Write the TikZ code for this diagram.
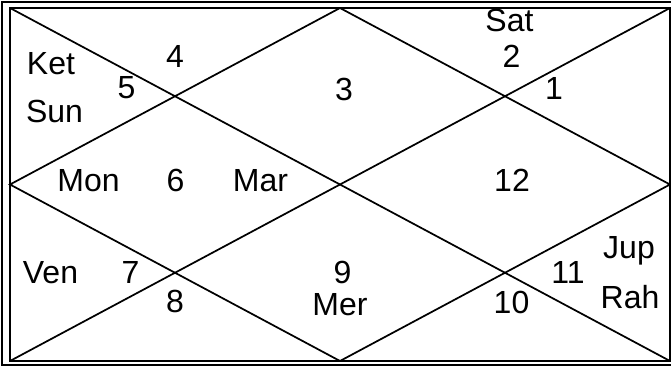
\documentclass[tikz,border=0pt]{standalone}
\usepackage{fontspec}
\setmainfont{Liberation Sans}
\usepackage{tikz}

\begin{document}
\begin{tikzpicture}[x=0.75pt, y=-0.75pt, line width=1.3pt,
    lbl/.style={anchor=base, inner sep=0pt, font=\fontsize{24}{28}\selectfont}]
  \useasboundingbox (0,0) rectangle (671,367);

  % chart corners and side midpoints
  \coordinate (tl) at (10,8);
  \coordinate (tr) at (670,8);
  \coordinate (br) at (670,361);
  \coordinate (bl) at (10,361);
  \coordinate (mt) at (340,8);
  \coordinate (mr) at (670,184.5);
  \coordinate (mb) at (340,361);
  \coordinate (ml) at (10,184.5);

  % double frame
  \draw (680,2) -- (2,2) -- (2,365) -- (680,365);
  \draw (tl) rectangle (br);

  % houses
  \draw (tl) -- (br);
  \draw (tr) -- (bl);
  \draw (mt) -- (mr) -- (mb) -- (ml) -- cycle;

  % house numbers
  \node[lbl] (h1)  at (554,100)   {1};
  \node[lbl] (h2)  at (511.5,68)  {2};
  \node[lbl] (h3)  at (344,101)   {3};
  \node[lbl] (h4)  at (175,68)    {4};
  \node[lbl] (h5)  at (126.5,99)  {5};
  \node[lbl] (h6)  at (175.5,192) {6};
  \node[lbl] (h7)  at (130.5,283) {7};
  \node[lbl] (h8)  at (175,312)   {8};
  \node[lbl] (h9)  at (342.5,283) {9};
  \node[lbl] (h10) at (511.5,313) {10};
  \node[lbl] (h11) at (568,283)   {11};
  \node[lbl] (h12) at (512,191)   {12};

  % planets
  \node[lbl] (sat) at (509.5,32)  {Sat};
  \node[lbl] (ket) at (51,75)     {Ket};
  \node[lbl] (sun) at (54.5,123)  {Sun};
  \node[lbl] (mon) at (88.5,192)  {Mon};
  \node[lbl] (mar) at (260.5,192) {Mar};
  \node[lbl] (ven) at (50.5,283)  {Ven};
  \node[lbl] (mer) at (340,315)   {Mer};
  \node[lbl] (jup) at (629,258)   {Jup};
  \node[lbl] (rah) at (630,308)   {Rah};
\end{tikzpicture}
\end{document}
